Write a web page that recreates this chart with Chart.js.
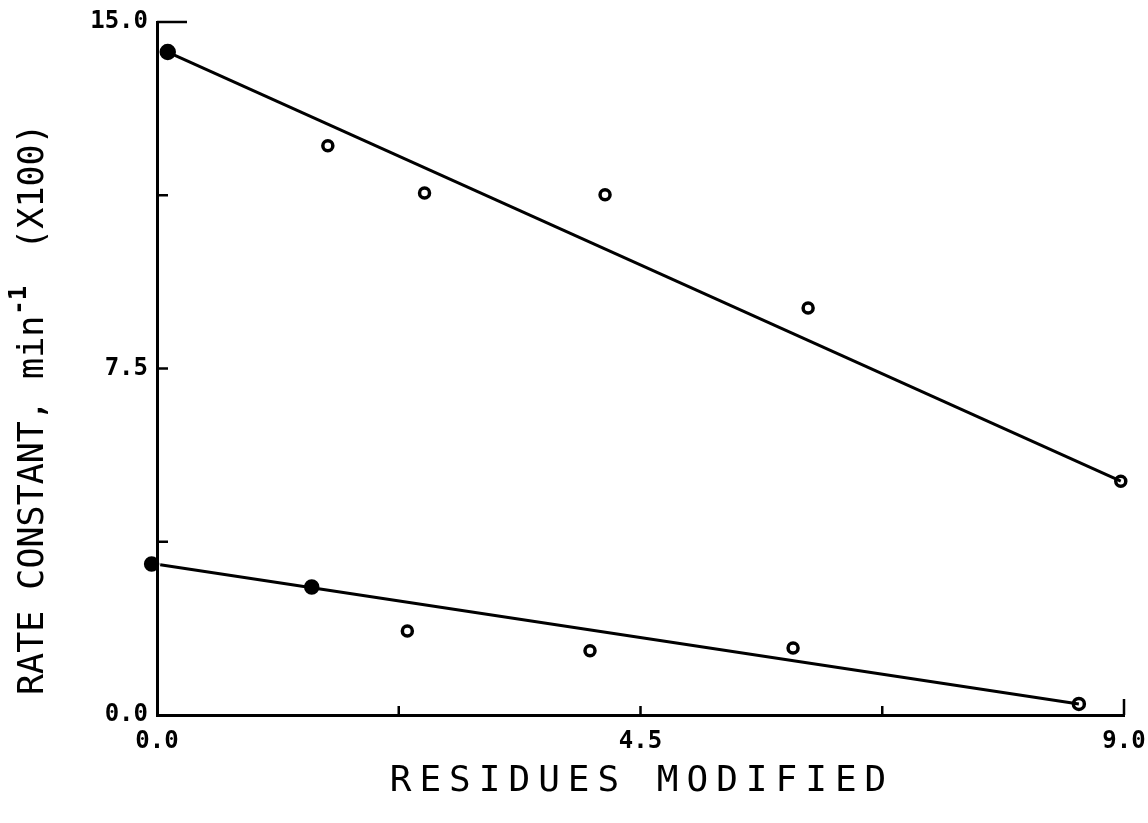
<!DOCTYPE html>
<html>
<head>
<meta charset="utf-8">
<script src="https://cdn.jsdelivr.net/npm/chart.js@4.4.0/dist/chart.umd.min.js"></script>
<style>
  html, body { margin: 0; padding: 0; background: #fff; }
  #c { display: block; }
</style>
</head>
<body>
<canvas id="c" width="1148" height="823"></canvas>
<script>
// ---- data ----
const upperX = [0.10, 1.59, 2.49, 4.17, 6.06, 8.97];
const upperY = [14.35, 12.32, 11.30, 11.26, 8.81, 5.06];
const lowerX = [-0.05, 1.44, 2.33, 4.03, 5.92, 8.58];
const lowerY = [3.27, 2.77, 1.82, 1.39, 1.45, 0.24];
// fitted lines (endpoints)
const upperFitX = [0.10, 8.97];
const upperFitY = [14.35, 5.06];
const lowerFitX = [0.03, 8.58];
const lowerFitY = [3.25, 0.24];
// axis ticks
const xTickValues = [0, 2.25, 4.5, 6.75, 9];
const xTickLabels = ['0.0', '', '4.5', '', '9.0'];
const yTickValues = [0, 3.75, 7.5, 11.25, 15];
const yTickLabels = ['0.0', '', '7.5', '', '15.0'];
const xTitle = 'RESIDUES MODIFIED';
const yTitleMain = 'RATE CONSTANT, min';
const yTitleSup = '-1';
const yTitleTail = ' (X100)';

const toPts = (xs, ys) => xs.map((x, i) => ({ x: x, y: ys[i] }));

const tickLabelFont = { family: '"DejaVu Sans Mono", monospace', size: 24, weight: 'bold' };

const inwardTicks = {
  id: 'inwardTicks',
  afterDatasetsDraw(chart) {
    const ctx = chart.ctx, xs = chart.scales.x, ys = chart.scales.y, a = chart.chartArea;
    ctx.save();
    ctx.strokeStyle = '#000';
    ctx.lineWidth = 2.5;
    ctx.beginPath();
    yTickValues.forEach((v) => {
      if (v === 0) return;
      const py = ys.getPixelForValue(v);
      const len = (v === 15) ? 30 : 11;
      ctx.moveTo(a.left, py); ctx.lineTo(a.left + len, py);
    });
    xTickValues.forEach((v) => {
      if (v === 0) return;
      const px = xs.getPixelForValue(v);
      const len = (v === 9) ? 16 : 9;
      ctx.moveTo(px, a.bottom); ctx.lineTo(px, a.bottom - len);
    });
    ctx.stroke();
    ctx.restore();
  }
};

const axisTitles = {
  id: 'axisTitles',
  afterDraw(chart) {
    const ctx = chart.ctx;
    ctx.save();
    ctx.fillStyle = '#000';
    // x title
    ctx.font = '36px "DejaVu Sans Mono", monospace';
    ctx.textAlign = 'center';
    ctx.textBaseline = 'middle';
    try { ctx.letterSpacing = '8px'; } catch (e) {}
    ctx.fillText(xTitle, 642, 782);
    try { ctx.letterSpacing = '0px'; } catch (e) {}
    // y title (rotated)
    ctx.translate(34, 695);
    ctx.rotate(-Math.PI / 2);
    ctx.textAlign = 'left';
    ctx.textBaseline = 'middle';
    ctx.font = '35px "DejaVu Sans Mono", monospace';
    ctx.fillText(yTitleMain, 0, 0);
    let w = ctx.measureText(yTitleMain).width;
    ctx.font = 'bold 24px "DejaVu Sans Mono", monospace';
    ctx.fillText(yTitleSup, w + 1, -14);
    w += ctx.measureText(yTitleSup).width + 16;
    ctx.font = '35px "DejaVu Sans Mono", monospace';
    ctx.fillText(yTitleTail, w, 0);
    ctx.restore();
  }
};

new Chart(document.getElementById('c'), {
  type: 'scatter',
  data: {
    datasets: [
      {
        label: 'upper fit', data: toPts(upperFitX, upperFitY), showLine: true,
        borderColor: '#000', borderWidth: 3, pointRadius: 0, fill: false
      },
      {
        label: 'lower fit', data: toPts(lowerFitX, lowerFitY), showLine: true,
        borderColor: '#000', borderWidth: 3, pointRadius: 0, fill: false
      },
      {
        label: 'upper', data: toPts(upperX, upperY), showLine: false, clip: false,
        pointRadius: [6.5, 5, 5, 5, 5, 5],
        pointBorderWidth: 3.5, pointBorderColor: '#000',
        pointBackgroundColor: ['#000', '#fff', '#fff', '#fff', '#fff', '#fff']
      },
      {
        label: 'lower', data: toPts(lowerX, lowerY), showLine: false, clip: false,
        pointRadius: [6, 6, 5, 5, 5, 5.5],
        pointBorderWidth: 3.5, pointBorderColor: '#000',
        pointBackgroundColor: ['#000', '#000', '#fff', '#fff', '#fff', '#fff']
      }
    ]
  },
  options: {
    responsive: false,
    animation: false,
    devicePixelRatio: 1,
    layout: { padding: { top: 22, right: 24, left: 0, bottom: 0 } },
    plugins: { legend: { display: false }, tooltip: { enabled: false } },
    scales: {
      x: {
        type: 'linear', min: 0, max: 9,
        afterBuildTicks: (s) => { s.ticks = xTickValues.map(v => ({ value: v })); },
        afterFit: (s) => { s.height = 108; s.paddingRight = 0; s.paddingLeft = 0; },
        ticks: {
          autoSkip: false, maxRotation: 0, padding: 12, color: '#000', font: tickLabelFont,
          callback: (v) => { const i = xTickValues.indexOf(v); return i >= 0 ? xTickLabels[i] : ''; }
        },
        grid: { display: false, drawTicks: false },
        border: { display: true, color: '#000', width: 3 }
      },
      y: {
        type: 'linear', min: 0, max: 15,
        afterBuildTicks: (s) => { s.ticks = yTickValues.map(v => ({ value: v })); },
        afterFit: (s) => { s.width = 157; s.paddingTop = 0; s.paddingBottom = 0; },
        ticks: {
          autoSkip: false, padding: 9, color: '#000', font: tickLabelFont,
          callback: (v) => { const i = yTickValues.indexOf(v); return i >= 0 ? yTickLabels[i] : ''; }
        },
        grid: { display: false, drawTicks: false },
        border: { display: true, color: '#000', width: 3 }
      }
    }
  },
  plugins: [inwardTicks, axisTitles]
});
</script>
</body>
</html>
